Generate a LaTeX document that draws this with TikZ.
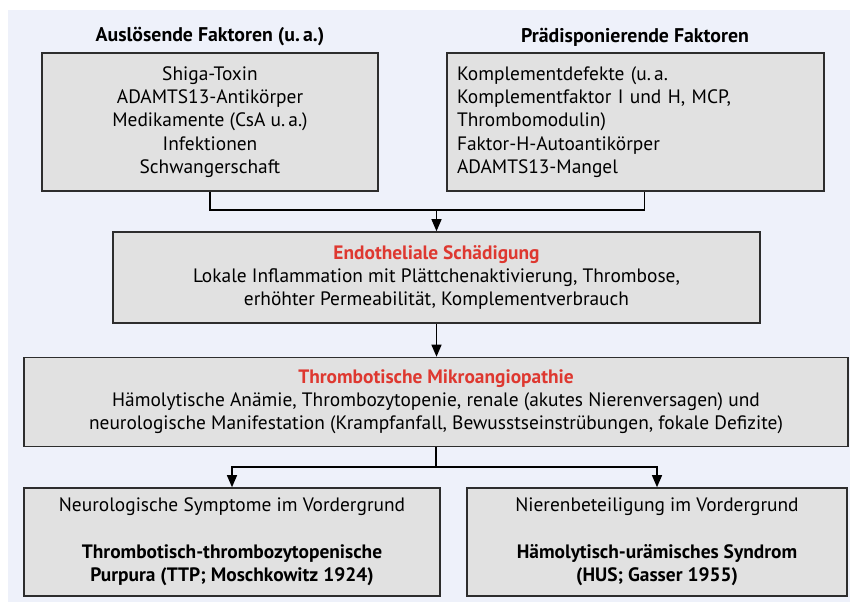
\documentclass[tikz,border=0pt]{standalone}
\usepackage{fontspec}
\setmainfont{PT Sans}
\usepackage{xcolor}
\usepackage{tikz}
\usetikzlibrary{arrows.meta,positioning,calc}
\definecolor{cPanel}{RGB}{238,241,250}
\definecolor{cBox}{RGB}{225,225,225}
\definecolor{cEdge}{RGB}{45,45,45}
\definecolor{cRed}{RGB}{222,56,48}
\tikzset{
  panel/.style={fill=cPanel, draw=none},
  box/.style={draw=cEdge, fill=cBox, line width=0.8pt, align=center,
              inner sep=0pt, font=\fontsize{9.7}{11.6}\selectfont},
  boxl/.style={box, align=left},
  ttl/.style={font=\fontsize{9.9}{11.6}\selectfont\bfseries, inner sep=0pt},
  arr/.style={-{Triangle[length=6pt,width=5pt]}, line width=0.65pt},
  ln/.style={line width=0.65pt},
}
\newcommand{\hdr}[1]{\textcolor{cRed}{\textbf{#1}}}

\begin{document}
\begin{tikzpicture}[x=0.5pt,y=-0.5pt]
  \useasboundingbox (0,0) rectangle (850,604);
  \fill[panel] (8,10) rectangle (850,602);
  % factors
  \node[ttl] (t1) at (210,37) {Auslösende Faktoren (u.\,a.)};
  \node[ttl] (t2) at (635,37) {Prädisponierende Faktoren};
  \node[box, minimum width=168pt, minimum height=69pt] (trig) at (210,122)
    {Shiga-Toxin\\ ADAMTS13-Antikörper\\ Medikamente (CsA u.\,a.)\\ Infektionen\\ Schwangerschaft};
  \node[boxl, minimum width=188.5pt, minimum height=69pt, text width=178.5pt] (pred) at (635.5,122)
    {Komplementdefekte (u.\,a.\\ Komplementfaktor I und H, MCP,\\ Thrombomodulin)\\ Faktor-H-Autoantikörper\\ ADAMTS13-Mangel};
  % damage
  \node[box, minimum width=323.5pt, minimum height=45.5pt] (endo) at (436.5,277.5)
    {\hdr{Endotheliale Schädigung}\\ Lokale Inflammation mit Plättchenaktivierung, Thrombose,\\ erhöhter Permeabilität, Komplementverbrauch};
  \node[box, minimum width=412pt, minimum height=44.5pt] (tma) at (436,402)
    {\hdr{Thrombotische Mikroangiopathie}\\ Hämolytische Anämie, Thrombozytopenie, renale (akutes Nierenversagen) und\\ neurologische Manifestation (Krampfanfall, Bewusstseinstrübungen, fokale Defizite)};
  % outcomes
  \node[box, minimum width=208pt, minimum height=54pt] (ttp) at (232,542)
    {Neurologische Symptome im Vordergrund\\[11.6pt] \textbf{Thrombotisch-thrombozytopenische}\\ \textbf{Purpura (TTP; Moschkowitz 1924)}};
  \node[box, minimum width=190pt, minimum height=54pt] (hus) at (657,542)
    {Nierenbeteiligung im Vordergrund\\[11.6pt] \textbf{Hämolytisch-urämisches Syndrom}\\ \textbf{(HUS; Gasser 1955)}};
  % connectors
  \coordinate (join) at (endo.north |- 0,210);
  \coordinate (split) at (tma.south |- 0,467);
  \draw[ln] (trig.south) |- (join);
  \draw[ln] ([xshift=4.5pt]pred.south) |- (join);
  \draw[arr] (join) -- (endo.north);
  \draw[arr] (endo.south) -- (endo.south |- tma.north);
  \draw[ln] (tma.south) -- (split);
  \draw[arr] (split) -| (ttp.north);
  \draw[arr] (split) -| (hus.north);
\end{tikzpicture}
\end{document}
